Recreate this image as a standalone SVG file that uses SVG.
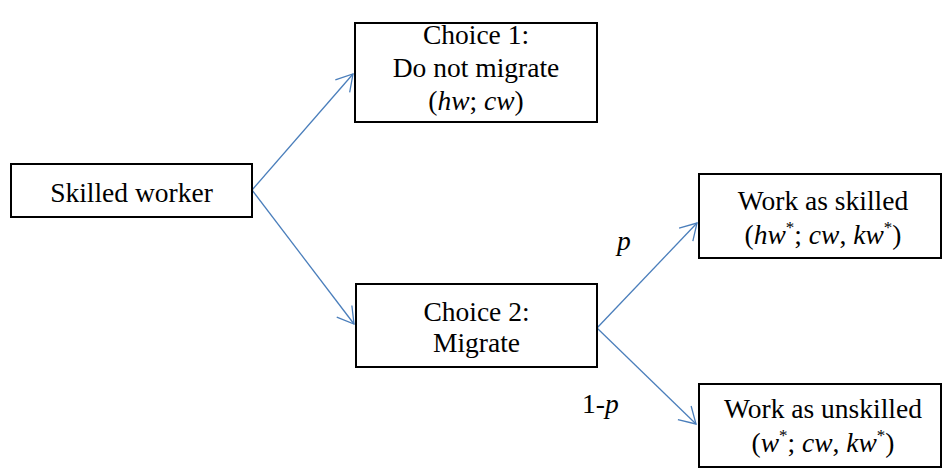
<svg xmlns="http://www.w3.org/2000/svg" width="942" height="469" viewBox="0 0 942 469">
  <style>
    .box { fill: #ffffff; stroke: #000000; stroke-width: 2; }
    .t { text-anchor: middle; }
    .i { font-style: italic; }
    .sup { font-size: 17px; }
    .edge { fill: none; stroke: #4a7ebb; stroke-width: 1.3; marker-end: url(#arrow); }
  </style>
  <defs>
    <marker id="arrow" markerUnits="userSpaceOnUse" markerWidth="18" markerHeight="20" refX="16" refY="9.5" orient="auto" overflow="visible">
      <path d="M0,0 L16,9.5 L0,19" fill="none" stroke="#4a7ebb" stroke-width="1.3"/>
    </marker>
  </defs>

  <!-- connectors -->
  <g id="connectors">
    <line class="edge" x1="252" y1="190" x2="353" y2="74"/>
    <line class="edge" x1="252" y1="190" x2="354" y2="324"/>
    <line class="edge" x1="597" y1="328" x2="697" y2="223"/>
    <line class="edge" x1="597" y1="328" x2="696" y2="424"/>
  </g>

  <g font-family="Liberation Serif, DejaVu Serif, serif" font-size="27.5" fill="#000000">
    <!-- branch probabilities -->
    <g id="labels">
      <text class="i" x="617" y="250">p</text>
      <text x="582" y="413">1-<tspan class="i">p</tspan></text>
    </g>

    <g id="skilled-worker">
      <rect class="box" x="11" y="164" width="241" height="53"/>
      <text class="t" x="131.5" y="202">Skilled worker</text>
    </g>

    <g id="choice-1">
      <rect class="box" x="355" y="23" width="242" height="99"/>
      <text class="t" x="476" y="44">Choice 1:</text>
      <text class="t" x="476" y="77">Do not migrate</text>
      <text class="t" x="476" y="110">(<tspan class="i">hw</tspan>; <tspan class="i">cw</tspan>)</text>
    </g>

    <g id="choice-2">
      <rect class="box" x="356" y="284" width="241" height="83"/>
      <text class="t" x="476.5" y="321">Choice 2:</text>
      <text class="t" x="476.5" y="352">Migrate</text>
    </g>

    <g id="work-skilled">
      <rect class="box" x="699" y="174" width="242" height="84"/>
      <text class="t" x="823" y="210">Work as skilled</text>
      <text class="t" x="823" y="244">(<tspan class="i">hw</tspan><tspan class="sup" dy="-11">*</tspan><tspan dy="11">; </tspan><tspan class="i">cw</tspan>, <tspan class="i">kw</tspan><tspan class="sup" dy="-11">*</tspan><tspan dy="11">)</tspan></text>
    </g>

    <g id="work-unskilled">
      <rect class="box" x="699" y="384" width="242" height="83"/>
      <text class="t" x="823" y="418">Work as unskilled</text>
      <text class="t" x="823" y="452">(<tspan class="i">w</tspan><tspan class="sup" dy="-11">*</tspan><tspan dy="11">; </tspan><tspan class="i">cw</tspan>, <tspan class="i">kw</tspan><tspan class="sup" dy="-11">*</tspan><tspan dy="11">)</tspan></text>
    </g>
  </g>
</svg>
